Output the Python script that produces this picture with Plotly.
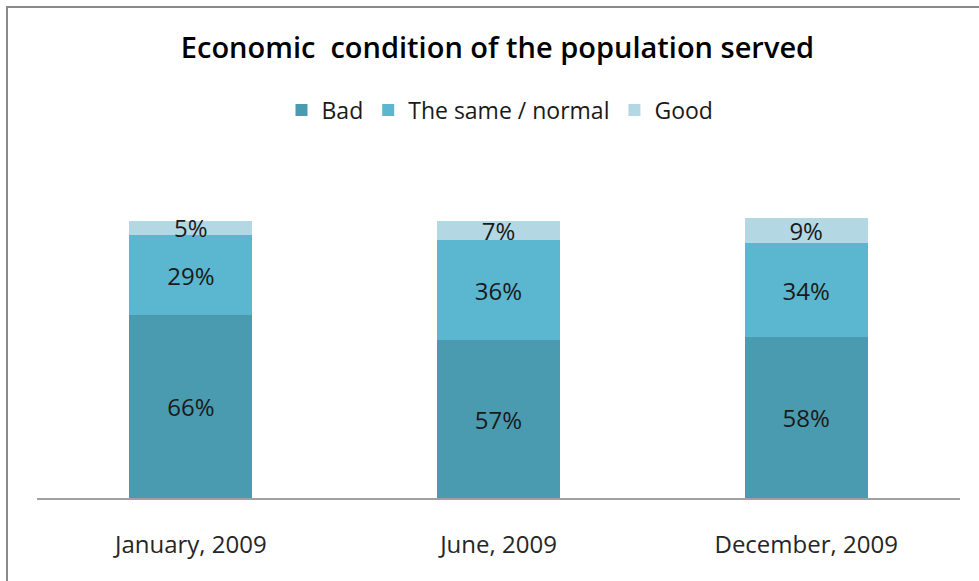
import plotly.graph_objects as go

categories = ["January, 2009", "June, 2009", "December, 2009"]
bad = [66, 57, 58]
same = [29, 36, 34]
good = [5, 7, 9]
series_names = ["Bad", "The same / normal", "Good"]
colors = ["#4A9BB0", "#5BB7CF", "#B3D8E3"]

FONT = "Open Sans"
W, H = 979, 581
L, R, T, B = 37, 19, 151, 83

fig = go.Figure()
for name, vals, col in zip(series_names, [bad, same, good], colors):
    fig.add_trace(go.Bar(
        x=categories, y=vals, name=name,
        marker=dict(color=col, line=dict(width=0)),
        text=[f"{v}%" for v in vals],
        textposition="inside", insidetextanchor="middle",
        constraintext="none",
        textfont=dict(family=FONT, size=24, color="#1a1a1a"),
        width=0.4,
    ))

pw = W - L - R
ph = H - T - B
fig.add_shape(type="rect", xref="paper", yref="paper",
              x0=(7 - L) / pw, x1=(W + 20 - L) / pw,
              y0=(H - B - (H + 20)) / ph, y1=(H - B - 7) / ph,
              line=dict(color="#8a8a8a", width=2), fillcolor="rgba(0,0,0,0)",
              layer="above")

fig.update_layout(
    width=W, height=H,
    margin=dict(l=L, r=R, t=T, b=B),
    barmode="stack",
    plot_bgcolor="white", paper_bgcolor="white",
    font=dict(family=FONT, color="#1a1a1a"),
    title=dict(text="Economic  condition of the population served",
               x=(180 + 815) / 2 / W, xanchor="center", xref="container",
               y=1 - 48 / H, yanchor="middle", yref="container",
               font=dict(family=FONT, size=29, color="#000000", weight=600)),
    legend=dict(orientation="h", x=500 / W, xanchor="center", xref="container",
                y=1 - 110 / H, yanchor="middle", yref="container",
                font=dict(family=FONT, size=23, color="#1a1a1a"),
                traceorder="normal", itemwidth=30),
    showlegend=True,
    xaxis=dict(showline=True, linecolor="#a0a0a0", linewidth=1.5,
               ticks="", ticklabelstandoff=24,
               tickfont=dict(family=FONT, size=24, color="#262626"),
               showgrid=False, zeroline=False),
    yaxis=dict(range=[0, 125.3], visible=False, showgrid=False, zeroline=False),
)

fig.write_html("out.html")
